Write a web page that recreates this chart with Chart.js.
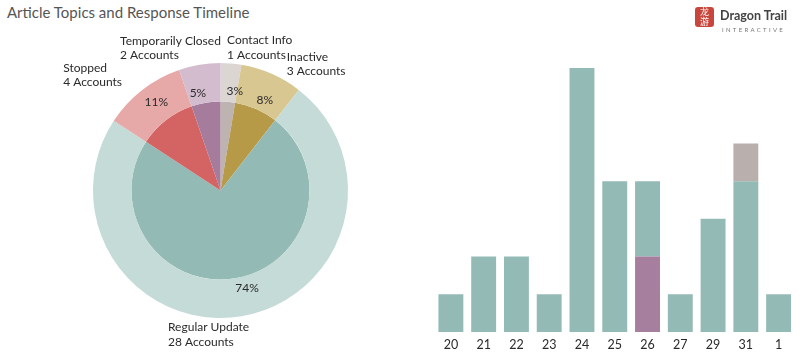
<!DOCTYPE html>
<html><head><meta charset="utf-8">
<script src="https://cdn.jsdelivr.net/npm/chart.js@4.4.0/dist/chart.umd.min.js"></script>
<style>
html,body{margin:0;padding:0;background:#fff;width:800px;height:357px;overflow:hidden;font-family:Lato,sans-serif;}
#title{position:absolute;left:7px;top:3px;font-size:15px;color:#555;font-family:Lato,sans-serif;}
#pieWrap{position:absolute;left:0;top:0;width:441px;height:357px;}
#barWrap{position:absolute;left:420px;top:0;width:380px;height:357px;}
#logo{position:absolute;left:695px;top:7px;}
#logo .icon{position:absolute;left:0;top:0;width:19px;height:20px;background:#c9463d;border-radius:3px;color:#fff;font-size:9px;line-height:10px;text-align:center;font-family:"Noto Sans CJK SC";}
#logo .name{position:absolute;left:25px;top:1px;font-size:12.5px;font-weight:bold;color:#444;white-space:nowrap;font-family:Lato,sans-serif;}
#logo .sub{position:absolute;left:27px;top:19px;font-size:6px;color:#777;letter-spacing:2.3px;white-space:nowrap;font-family:Lato,sans-serif;}
</style></head>
<body>
<div id="title">Article Topics and Response Timeline</div>
<div id="pieWrap"><canvas id="pie" width="441" height="357"></canvas></div>
<div id="barWrap"><canvas id="bar" width="380" height="357"></canvas></div>
<div id="logo"><div class="icon">龙<br>游</div><div class="name">Dragon Trail</div><div class="sub">INTERACTIVE</div></div>
<script>
// ---- pie data ----
const topics = ["Contact Info", "Inactive", "Regular Update", "Stopped", "Temporarily Closed"];
const accounts = [1, 3, 28, 4, 2];
const outerColors = ["#dcd6d3", "#d9c792", "#c5dbd8", "#e6a9a8", "#d4bccf"];
const innerColors = ["#bdb3b0", "#b69a48", "#93bab4", "#d46464", "#a57c9c"];
// ---- bar data ----
const days = ["20", "21", "22", "23", "24", "25", "26", "27", "29", "31", "1"];
const regularUpdates = [1, 2, 2, 1, 7, 4, 2, 1, 3, 4, 1];
const closedUpdates = [0, 0, 0, 0, 0, 0, 2, 0, 0, 0, 0];
const contactUpdates = [0, 0, 0, 0, 0, 0, 0, 0, 0, 1, 0];

// label layout (offsets from arc anchors), not data
const outsideOffsets = [[-4,-23],[15,-17],[-73.5,11],[-79,-22],[-79.5,-24]];
const pctOffsets = [[6,1],[4,2],[10,-2],[-2.5,-9],[-6,2]];

const FONT = 'Lato, sans-serif';

const pieLabels = {
  id: 'pieLabels',
  afterDatasetsDraw(chart) {
    const ctx = chart.ctx;
    const meta = chart.getDatasetMeta(0);
    const total = accounts.reduce((a,b)=>a+b,0);
    ctx.save();
    ctx.fillStyle = '#2a2a2a';
    meta.data.forEach((arc, i) => {
      const p = arc.getProps(['x','y','startAngle','endAngle','innerRadius','outerRadius'], true);
      const mid = (p.startAngle + p.endAngle) / 2;
      const rp = p.innerRadius + (p.outerRadius - p.innerRadius) * 0.3;
      ctx.font = '12px ' + FONT;
      ctx.textAlign = 'center'; ctx.textBaseline = 'middle';
      const pct = Math.round(accounts[i] / total * 100) + '%';
      ctx.fillText(pct, p.x + Math.cos(mid) * rp + pctOffsets[i][0], p.y + Math.sin(mid) * rp + pctOffsets[i][1]);
      const ax = p.x + Math.cos(mid) * p.outerRadius + outsideOffsets[i][0];
      const ay = p.y + Math.sin(mid) * p.outerRadius + outsideOffsets[i][1];
      ctx.textAlign = 'left';
      ctx.fillText(topics[i], ax, ay);
      ctx.fillText(accounts[i] + ' Accounts', ax, ay + 14.5);
    });
    ctx.restore();
  }
};

new Chart(document.getElementById('pie'), {
  type: 'pie',
  data: {
    labels: topics,
    datasets: [
      { data: accounts, backgroundColor: outerColors, borderWidth: 0, weight: 38.5 },
      { data: accounts, backgroundColor: innerColors, borderWidth: 0, weight: 89 }
    ]
  },
  options: {
    responsive: false, animation: false,
    layout: { padding: { left: 93, right: 93, top: 63, bottom: 39 } },
    plugins: { legend: { display: false }, tooltip: { enabled: false } }
  },
  plugins: [pieLabels]
});

new Chart(document.getElementById('bar'), {
  type: 'bar',
  data: {
    labels: days,
    datasets: [
      { data: closedUpdates, backgroundColor: '#a67e9e' },
      { data: regularUpdates, backgroundColor: '#93bab4' },
      { data: contactUpdates, backgroundColor: '#b9b0ad' }
    ]
  },
  options: {
    responsive: false, animation: false,
    layout: { padding: { left: 14.5, right: 5, top: 68, bottom: 0 } },
    datasets: { bar: { barPercentage: 0.76, categoryPercentage: 1, borderWidth: 0 } },
    scales: {
      x: { stacked: true, grid: { display: false, drawTicks: false, tickLength: 0 }, border: { display: false },
           ticks: { color: '#2a2a2a', font: { size: 12.5, family: FONT }, padding: 5, maxRotation: 0 } },
      y: { stacked: true, display: false, min: 0, max: 7 }
    },
    plugins: { legend: { display: false }, tooltip: { enabled: false } }
  }
});
</script>
</body></html>
